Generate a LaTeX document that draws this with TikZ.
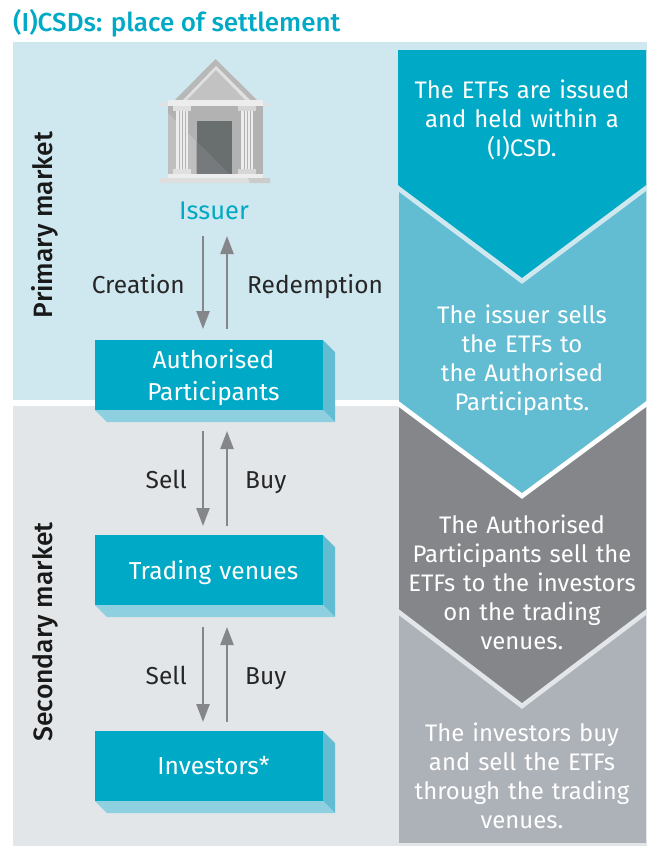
\documentclass[tikz,border=0pt]{standalone}
\usepackage{fontspec}
\setmainfont{Fira Sans}
\newfontfamily\medfont{Fira Sans Medium}
\usetikzlibrary{positioning,arrows.meta}
\definecolor{teal1}{HTML}{00A9C5}
\definecolor{teal2}{HTML}{62BDD3}
\definecolor{teal3}{HTML}{8FD0E0}
\definecolor{pale}{HTML}{CFE8EF}
\definecolor{mist}{HTML}{E3E6E9}
\definecolor{slate}{HTML}{858689}
\definecolor{ash}{HTML}{ADB1B8}
\definecolor{door}{HTML}{696F6F}
\definecolor{doorlit}{HTML}{767A7D}
\tikzstyle{bbox}=[rectangle, fill=teal1, text=white, minimum width=228pt, minimum height=70pt, inner sep=0pt, outer sep=0pt, font=\fontsize{24.5}{32}\selectfont, text centered, text width=220pt]
\tikzstyle{pline}=[-{Triangle[length=18pt,width=13pt]}, line width=2.4pt, draw=slate]
\tikzstyle{ltext}=[text=black!85, inner sep=0pt, font=\fontsize{24.5}{28}\selectfont]
\tikzstyle{rtext}=[text=white, inner sep=0pt, font=\fontsize{23.9}{29}\selectfont, text centered, text width=244pt]
\tikzstyle{mtext}=[text=black!90, inner sep=0pt, rotate=90, font=\medfont\fontsize{26.5}{28}\selectfont]
\begin{document}
\begin{tikzpicture}[x=1pt,y=-1pt]
\useasboundingbox (0,0) rectangle (647,846);
\node (TITLE) [anchor=west, inner sep=0pt, text=teal1, font=\medfont\fontsize{26}{30}\selectfont] at (13,23) {(I)CSDs: place of settlement};
 % panels
 \fill[pale] (13,42) rectangle (647,400);
 \fill[mist] (13,406) rectangle (647,846);
 % chevrons, last one first
 \fill[ash] (399,600) rectangle (646,843);
 \fill[slate] (399,400) -- (646,400) -- (646,610) -- (522,704) -- (399,610) -- cycle;
 \draw[mist, line width=4.6pt] (396,610) -- (522,706) -- (649,610);
 \fill[teal2] (399,180) -- (646,180) -- (646,402) -- (522,493) -- (399,402) -- cycle;
 \draw[white, line width=4.6pt] (396,402) -- (522,496) -- (649,402);
 \fill[teal1] (398,50) -- (646,50) -- (646,185) -- (522,278) -- (398,185) -- cycle;
 \draw[pale, line width=4.6pt] (395,186) -- (522,281) -- (649,186);
 % temple
 \fill[black!28!white] (215.5,59) -- (257,100) -- (175,100) -- cycle;
 \fill[black!12!white] (216,66) -- (250,100) -- (183,100) -- cycle;
 \fill[black!24!white] (216,70) -- (245,100) -- (187,100) -- cycle;
 \fill[black!30!white] (168,106) rectangle (263,174);
 \fill[black!25!white] (168,113) -- (229,174) -- (168,174) -- cycle;
 \fill[black!12!white] (160,102.5) rectangle (270,105.5);
 \fill[black!7!white] (168,100) rectangle (263,106);
 \fill[door] (196.5,121) rectangle (232,174);
 \fill[doorlit] (196.5,141) -- (229,174) -- (196.5,174) -- cycle;
 \fill[black!12!white] (173,106) rectangle (191,111);
 \fill[black!12!white] (173,169) rectangle (191,174);
 \fill[black!7!white] (176,111) rectangle (188,169);
 \draw[black!30!white, line width=0.8pt] (179,111) -- (179,169) (182,111) -- (182,169) (185,111) -- (185,169);
 \fill[black!16!white] (238,106) rectangle (256,111);
 \fill[black!16!white] (238,169) rectangle (256,174);
 \fill[black!7!white] (241,111) rectangle (253,169);
 \draw[black!30!white, line width=0.8pt] (244,111) -- (244,169) (247,111) -- (247,169) (250,111) -- (250,169);
 \fill[black!7!white] (168,174) rectangle (263,178);
 \fill[black!13!white] (160,178) rectangle (270,183);
 \fill[black!20!white] (248,178) -- (270,178) -- (270,183) -- (250,183) -- cycle;
 % nodes
 \node (ISSUER) [inner sep=0pt, text=teal1, font=\fontsize{25.5}{28}\selectfont] at (214,211) {Issuer};
 \node (AP) [bbox] at (209,375) {\hspace*{9pt}\rule{0pt}{24pt}Authorised\\\hspace*{9pt}Participants};
 \node (TV) [bbox,text depth=0pt,below=125pt of AP] {\hspace*{9pt}Trading venues};
 \node (INV) [bbox,below=126pt of TV] {\hspace*{9pt}Investors*};
 % box sides
 \fill[teal2] (AP.north east) -- ++(12,12) -- ++(0,70) -- (AP.south east) -- cycle;
 \fill[teal3] (AP.south west) -- (AP.south east) -- ++(12,12) -- ++(-228,0) -- cycle;
 \fill[teal2] (TV.north east) -- ++(12,12) -- ++(0,70) -- (TV.south east) -- cycle;
 \fill[teal3] (TV.south west) -- (TV.south east) -- ++(12,12) -- ++(-228,0) -- cycle;
 \fill[teal2] (INV.north east) -- ++(12,12) -- ++(0,70) -- (INV.south east) -- cycle;
 \fill[teal3] (INV.south west) -- (INV.south east) -- ++(12,12) -- ++(-228,0) -- cycle;
 % arrows
 \coordinate (ISSD) at (203,236);
 \coordinate (ISSU) at (227,236);
 \draw[pline] (ISSD) -- ([xshift=-6pt,yshift=11pt]AP.north);
 \draw[pline] ([xshift=18pt,yshift=11pt]AP.north) -- (ISSU);
 \draw[pline] ([xshift=-6pt,yshift=-21pt]AP.south) -- ([xshift=-6pt,yshift=9pt]TV.north);
 \draw[pline] ([xshift=18pt,yshift=9pt]TV.north) -- ([xshift=18pt,yshift=-21pt]AP.south);
 \draw[pline] ([xshift=-6pt,yshift=-22pt]TV.south) -- ([xshift=-6pt,yshift=9pt]INV.north);
 \draw[pline] ([xshift=18pt,yshift=9pt]INV.north) -- ([xshift=18pt,yshift=-22pt]TV.south);
 % labels
 \node (CRE) [ltext,anchor=base east] at (185,293) {Creation};
 \node (RED) [ltext,anchor=base west] at (247,293) {Redemption};
 \node (SELL1) [ltext,anchor=base east] at (187,488) {Sell};
 \node (BUY1) [ltext,anchor=base west] at (245,488) {Buy};
 \node (SELL2) [ltext,anchor=base east] at (187,684) {Sell};
 \node (BUY2) [ltext,anchor=base west] at (245,684) {Buy};
 \node (PRIM) [mtext] at (45,225) {Primary market};
 \node (SEC) [mtext] at (45,632) {Secondary market};
 \node (T1) [rtext] at (522,120) {The ETFs are issued\\and held within a\\(I)CSD.};
 \node (T2) [rtext] at (522,360) {The issuer sells\\the ETFs to\\the Authorised\\Participants.};
 \node (T3) [rtext] at (522,582) {The Authorised\\Participants sell the\\ETFs to the investors\\on the trading\\venues.};
 \node (T4) [rtext] at (522,776) {The investors buy\\and sell the ETFs\\through the trading\\venues.};
\end{tikzpicture}
\end{document}
